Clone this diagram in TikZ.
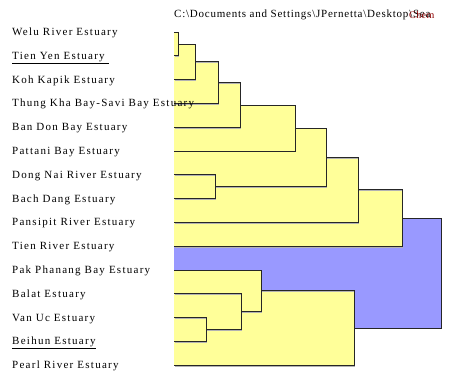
\documentclass[tikz,border=0pt]{standalone}
\usepackage{fontspec}
\setmainfont{Liberation Serif}[LetterSpace=11.5]
\usetikzlibrary{backgrounds}
\definecolor{yel}{HTML}{FFFF99}
\definecolor{blu}{HTML}{9999FF}
\definecolor{ink}{HTML}{8B0000}
\begin{document}
\begin{tikzpicture}[x=1pt,y=-1pt,
    leaf/.style = {anchor=west, inner sep=0pt,
        text height=7pt, text depth=0pt,
        font=\fontsize{11}{13}\selectfont},
    edge/.style = {draw=black!85, line width=0.8pt},
    shade/.style = {draw=black!30, line width=1pt,
        transform canvas={xshift=0.8pt,yshift=-0.8pt}}]

\useasboundingbox (0,0) rectangle (463,372);

% File path
\node[anchor=base west, inner sep=0pt,
    font=\fontsize{11}{13}\selectfont\addfontfeatures{LetterSpace=7}]
    (path) at (174,17) {C:\textbackslash Documents and Settings\textbackslash JPernetta\textbackslash Desktop\textbackslash Sea};
\node[anchor=base west, inner sep=0pt, text=ink,
    font=\fontsize{10}{12}\selectfont\addfontfeatures{LetterSpace=4}]
    (chem) at (409,18) {Chem};

% Leaves
\node[leaf] (welu) at (12,32) {Welu River Estuary};
\node[leaf] (tienyen) at (12,55.8) {\underline{Tien Yen Estuary~}};
\node[leaf] (koh) at (12,79.6) {Koh Kapik Estuary};
\node[leaf] (thung) at (12,103.4) {Thung Kha Bay-Savi Bay Estuary};
\node[leaf] (bandon) at (12,127.2) {Ban Don Bay Estuary};
\node[leaf] (pattani) at (12,151) {Pattani Bay Estuary};
\node[leaf] (dongnai) at (12,174.8) {Dong Nai River Estuary};
\node[leaf] (bachdang) at (12,198.6) {Bach Dang Estuary};
\node[leaf] (pansipit) at (12,222.4) {Pansipit River Estuary};
\node[leaf] (tienriver) at (12,246.2) {Tien River Estuary};
\node[leaf] (pakphanang) at (12,270) {Pak Phanang Bay Estuary};
\node[leaf] (balat) at (12,293.8) {Balat Estuary};
\node[leaf] (vanuc) at (12,317.6) {Van Uc Estuary};
\node[leaf] (beihun) at (12,341.4) {\underline{Beihun Estuary}};
\node[leaf] (pearl) at (12,365.2) {Pearl River Estuary};

% Clusters
\coordinate (axis) at (174,0);
\coordinate (c1) at (178,43.9);
\coordinate (c2) at (195,61.75);
\coordinate (c3) at (218,82.6);
\coordinate (c4) at (240,104.9);
\coordinate (c5) at (295,127.95);
\coordinate (c6) at (215,186.7);
\coordinate (c7) at (326,157.3);
\coordinate (c8) at (358,189.85);
\coordinate (c9) at (402,218);
\coordinate (c10) at (206,329.5);
\coordinate (c11) at (241,311.65);
\coordinate (c12) at (261,290.8);
\coordinate (c13) at (354,328);
\coordinate (root) at (441,273);

% Brackets, parents first, behind the labels
\begin{scope}[on background layer]
\fill[white] (0,0) rectangle (463,372);
\foreach \c/\a/\b/\col in {root/c9/c13/blu, c9/c8/tienriver/yel,
    c8/c7/pansipit/yel, c7/c5/c6/yel, c5/c4/pattani/yel,
    c4/c3/bandon/yel, c3/c2/thung/yel, c2/c1/koh/yel,
    c1/welu/tienyen/yel, c6/dongnai/bachdang/yel,
    c13/c12/pearl/yel, c12/pakphanang/c11/yel,
    c11/balat/c10/yel, c10/vanuc/beihun/yel}
{
    \fill[\col] (axis |- \a) rectangle (\c |- \b);
    \draw[shade] (axis |- \a) -| (\c |- \b) -- (axis |- \b);
    \draw[edge] (axis |- \a) -| (\c |- \b) -- (axis |- \b);
}
\end{scope}

\end{tikzpicture}
\end{document}
